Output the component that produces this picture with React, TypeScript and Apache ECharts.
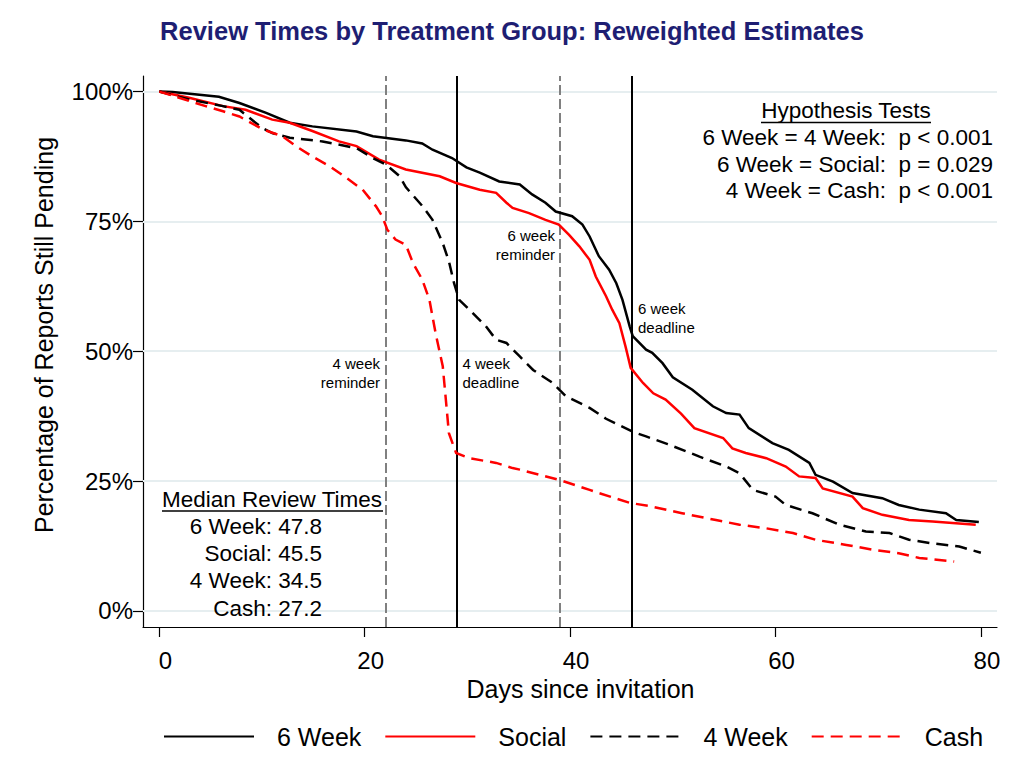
import React, { useEffect, useRef } from "react";
import * as echarts from "echarts";

const FONT = "'Liberation Sans', Arial, Helvetica, sans-serif";

// ---- data (days since invitation, % still pending) ----
const sixWeekDays = [0, 1.3, 5.8, 7.8, 10.4, 12.7, 14.9, 19.2, 20.8, 24.0, 25.6, 26.6, 28.5, 29.9, 31.2, 33.1, 35.1, 36.3, 37.6, 38.6, 40.2, 41.2, 41.9, 42.8, 43.8, 44.5, 45.1, 45.8, 46.1, 47.4, 48.0, 49.0, 50.0, 51.9, 53.9, 55.2, 56.5, 57.4, 59.7, 61.3, 63.3, 63.9, 65.6, 67.5, 70.4, 72.0, 74.0, 76.6, 77.6, 79.8];
const sixWeekPct = [100, 99.9, 99.0, 97.8, 95.9, 94.0, 93.3, 92.3, 91.4, 90.6, 90.0, 88.8, 87.2, 85.4, 84.4, 82.7, 82.1, 80.2, 78.6, 76.9, 76.0, 74.4, 72.1, 68.3, 65.7, 63.1, 59.9, 54.8, 52.9, 50.3, 49.7, 47.7, 45.0, 42.6, 39.4, 38.1, 37.8, 35.2, 32.3, 31.0, 28.5, 26.2, 24.9, 22.7, 21.7, 20.4, 19.5, 18.8, 17.5, 17.1];

const socialDays = [0, 2.9, 6.2, 8.4, 11.0, 12.7, 14.9, 17.5, 19.2, 21.4, 24.0, 27.3, 28.9, 31.2, 32.8, 33.8, 34.4, 36.0, 37.6, 38.9, 39.9, 40.9, 41.9, 42.5, 43.5, 44.1, 44.8, 45.4, 45.9, 47.1, 48.1, 49.3, 50.8, 52.1, 54.9, 55.8, 57.1, 59.1, 61.0, 62.3, 63.9, 64.6, 67.5, 68.5, 70.4, 73.0, 75.3, 79.5];
const socialPct = [100, 98.8, 97.2, 96.5, 94.6, 94.0, 92.4, 90.4, 89.5, 86.9, 85.0, 83.7, 82.4, 81.1, 80.5, 78.6, 77.6, 76.6, 75.3, 74.4, 72.4, 70.2, 67.6, 64.4, 60.6, 58.0, 55.4, 50.9, 46.8, 43.9, 41.9, 40.7, 38.0, 35.2, 33.3, 31.3, 30.4, 29.4, 27.8, 25.9, 25.6, 23.6, 22.0, 19.8, 18.5, 17.5, 17.2, 16.6];

const fourWeekDays = [0, 2.9, 6.2, 7.8, 8.8, 10.0, 11.0, 12.7, 15.9, 19.2, 20.8, 22.1, 23.4, 24.0, 25.6, 26.6, 27.6, 28.2, 28.7, 29.2, 30.5, 31.8, 32.8, 33.8, 35.1, 36.4, 38.3, 39.6, 41.9, 43.5, 46.1, 47.4, 49.5, 51.6, 52.6, 55.2, 56.5, 57.8, 60.0, 61.0, 63.6, 66.2, 68.8, 71.1, 73.0, 75.3, 77.9, 80.0];
const fourWeekPct = [100, 98.5, 97.2, 96.5, 94.9, 93.0, 92.0, 91.1, 90.4, 89.1, 87.2, 85.9, 83.7, 81.6, 78.0, 75.3, 70.8, 67.3, 63.1, 59.9, 57.4, 54.8, 52.2, 51.6, 49.0, 46.4, 43.9, 41.3, 39.1, 37.0, 34.5, 33.6, 32.1, 30.5, 29.7, 27.8, 26.5, 23.3, 22.0, 20.4, 18.8, 16.6, 15.3, 15.0, 13.7, 13.0, 12.4, 11.2];

const cashDays = [0, 1.3, 4.5, 6.2, 7.8, 10.1, 12.0, 13.3, 14.9, 16.6, 18.2, 19.8, 21.1, 21.7, 22.2, 23.0, 24.0, 24.7, 25.6, 26.3, 26.9, 27.6, 27.9, 28.2, 28.9, 30.2, 32.8, 34.4, 35.1, 39.0, 41.9, 42.8, 45.8, 47.7, 50.9, 54.2, 56.5, 59.1, 61.7, 63.9, 66.9, 69.4, 72.0, 74.0, 77.4];
const cashPct = [100, 99.2, 97.2, 96.2, 95.2, 92.7, 91.4, 89.5, 87.5, 85.6, 83.4, 81.1, 77.9, 76.0, 73.4, 71.5, 70.5, 67.0, 63.8, 59.9, 53.5, 47.1, 40.7, 34.2, 30.4, 29.4, 28.5, 27.5, 27.2, 25.2, 23.3, 22.7, 20.8, 20.2, 18.8, 17.5, 16.6, 15.9, 15.0, 13.7, 12.7, 11.8, 11.1, 10.2, 9.5];

const seriesNames = ["6 Week", "Social", "4 Week", "Cash"];
const xTicks = [0, 20, 40, 60, 80];
const yTicks = [0, 25, 50, 75, 100];
const reminderDays = [22, 39];
const deadlineDays = [29, 46];

const medianLabels = ["6 Week: 47.8", "Social: 45.5", "4 Week: 34.5", "Cash: 27.2"];
const testLabels = ["6 Week = 4 Week:  p < 0.001", "6 Week = Social:  p = 0.029", "4 Week = Cash:  p < 0.001"];

const zip = (xs: number[], ys: number[]) => xs.map((x, i) => [x, ys[i]]);

function txt(text: string, x: number, y: number, size: number, align: string, lineHeight?: number) {
  return {
    type: "text",
    x,
    y,
    z: 10,
    silent: true,
    style: {
      text,
      fill: "#000",
      fontSize: size,
      fontFamily: FONT,
      align,
      verticalAlign: "middle",
      lineHeight: lineHeight || size * 1.2,
    },
  };
}

function uline(x1: number, x2: number, y: number) {
  return {
    type: "line",
    z: 10,
    silent: true,
    shape: { x1, y1: y, x2, y2: y },
    style: { stroke: "#000", lineWidth: 1.3 },
  };
}

export default function App() {
  const ref = useRef<HTMLDivElement>(null);

  useEffect(() => {
    document.body.style.margin = "0";
    if (!ref.current) return;
    const chart = echarts.init(ref.current, null, { renderer: "svg" });

    const lineBase = (name: string, data: number[][], color: string, dashed: boolean) => ({
      name,
      type: "line",
      data,
      showSymbol: false,
      symbol: "none",
      z: 4,
      silent: true,
      lineStyle: {
        color,
        width: 2.5,
        type: dashed ? [12, 7] : "solid",
        cap: "butt",
        join: "miter",
      },
      itemStyle: { color },
      emphasis: { disabled: true },
    });

    const s6: any = lineBase("6 Week", zip(sixWeekDays, sixWeekPct), "#000000", false);
    const sS: any = lineBase("Social", zip(socialDays, socialPct), "#ff0000", false);
    const s4: any = lineBase("4 Week", zip(fourWeekDays, fourWeekPct), "#000000", true);
    const sC: any = lineBase("Cash", zip(cashDays, cashPct), "#ff0000", true);

    // horizontal grid lines
    sC.markLine = {
      silent: true,
      z: 1,
      symbol: ["none", "none"],
      label: { show: false },
      emphasis: { disabled: true },
      lineStyle: { color: "#e6eef0", width: 2, type: "solid" },
      data: yTicks.map((v) => ({ yAxis: v })),
    };
    // event lines
    s6.markLine = {
      silent: true,
      z: 2,
      symbol: ["none", "none"],
      label: { show: false },
      emphasis: { disabled: true },
      data: [
        ...reminderDays.map((d) => ({ xAxis: d, lineStyle: { color: "#808080", width: 2, type: [10, 4] } })),
        ...deadlineDays.map((d) => ({ xAxis: d, lineStyle: { color: "#000000", width: 2, type: "solid" } })),
      ],
    };

    const option: any = {
      animation: false,
      backgroundColor: "#ffffff",
      textStyle: { fontFamily: FONT },
      title: {
        text: "Review Times by Treatment Group: Reweighted Estimates",
        left: "center",
        top: 18,
        padding: 0,
        textStyle: { color: "#1e1e73", fontSize: 25.5, fontWeight: "bold", fontFamily: FONT },
      },
      grid: { left: 143, right: 27, top: 76, bottom: 141, containLabel: false },
      xAxis: {
        type: "value",
        min: -1.59,
        max: 81.57,
        name: "Days since invitation",
        nameLocation: "middle",
        nameGap: 41,
        nameTextStyle: { fontSize: 25, color: "#000", fontFamily: FONT, padding: [0, 0, 0, 21] },
        axisLine: { show: true, onZero: false, lineStyle: { color: "#000", width: 1.2 } },
        axisTick: { show: true, length: 10, customValues: xTicks, lineStyle: { color: "#000", width: 1.2 } },
        axisLabel: {
          customValues: xTicks,
          fontSize: 24,
          color: "#000",
          fontFamily: FONT,
          margin: 21,
          padding: [0, 0, 0, 12],
          formatter: (v: number) => String(v),
        },
        splitLine: { show: false },
      },
      yAxis: {
        type: "value",
        min: -3.1,
        max: 103,
        name: "Percentage of Reports Still Pending",
        nameLocation: "middle",
        nameGap: 87,
        nameTextStyle: { fontSize: 25, color: "#000", fontFamily: FONT, padding: [0, 0, 0, 33] },
        axisLine: { show: true, onZero: false, lineStyle: { color: "#000", width: 1.2 } },
        axisTick: { show: true, length: 10, customValues: yTicks, lineStyle: { color: "#000", width: 1.2 } },
        axisLabel: {
          customValues: yTicks,
          fontSize: 24,
          color: "#000",
          fontFamily: FONT,
          margin: 10,
          padding: [9, 0, 0, 0],
          formatter: (v: number) => v + "%",
        },
        splitLine: { show: false },
      },
      legend: {
        data: seriesNames,
        left: 163,
        top: 724,
        orient: "horizontal",
        itemWidth: 90,
        itemHeight: 26,
        itemGap: 23,
        padding: 0,
        selectedMode: false,
        itemStyle: { opacity: 0 },
        textStyle: { fontSize: 25, color: "#000", fontFamily: FONT, padding: [0, 0, 0, 18] },
      },
      series: [s6, sS, s4, sC],
      graphic: [
        // Hypothesis tests box
        txt("Hypothesis Tests", 846, 110.6, 22.5, "center"),
        uline(761, 931, 122.5),
        txt(testLabels[0], 993, 137.3, 22.5, "right"),
        txt(testLabels[1], 993, 164, 22.5, "right"),
        txt(testLabels[2], 993, 190.6, 22.5, "right"),
        // Median review times box
        txt("Median Review Times", 162, 499.6, 22.5, "left"),
        uline(162, 383, 511),
        txt(medianLabels[0], 322, 526.3, 22.5, "right"),
        txt(medianLabels[1], 322, 553, 22.5, "right"),
        txt(medianLabels[2], 322, 580.6, 22.5, "right"),
        txt(medianLabels[3], 322, 608, 22.5, "right"),
        // event annotations
        txt("4 week\nreminder", 380, 372.5, 15, "right", 19),
        txt("4 week\ndeadline", 462.5, 372.5, 15, "left", 19),
        txt("6 week\nreminder", 555, 245, 15, "right", 19),
        txt("6 week\ndeadline", 638, 318.2, 15, "left", 19),
      ],
    };

    chart.setOption(option);
    return () => chart.dispose();
  }, []);

  return <div ref={ref} style={{ width: 1024, height: 768 }} />;
}
